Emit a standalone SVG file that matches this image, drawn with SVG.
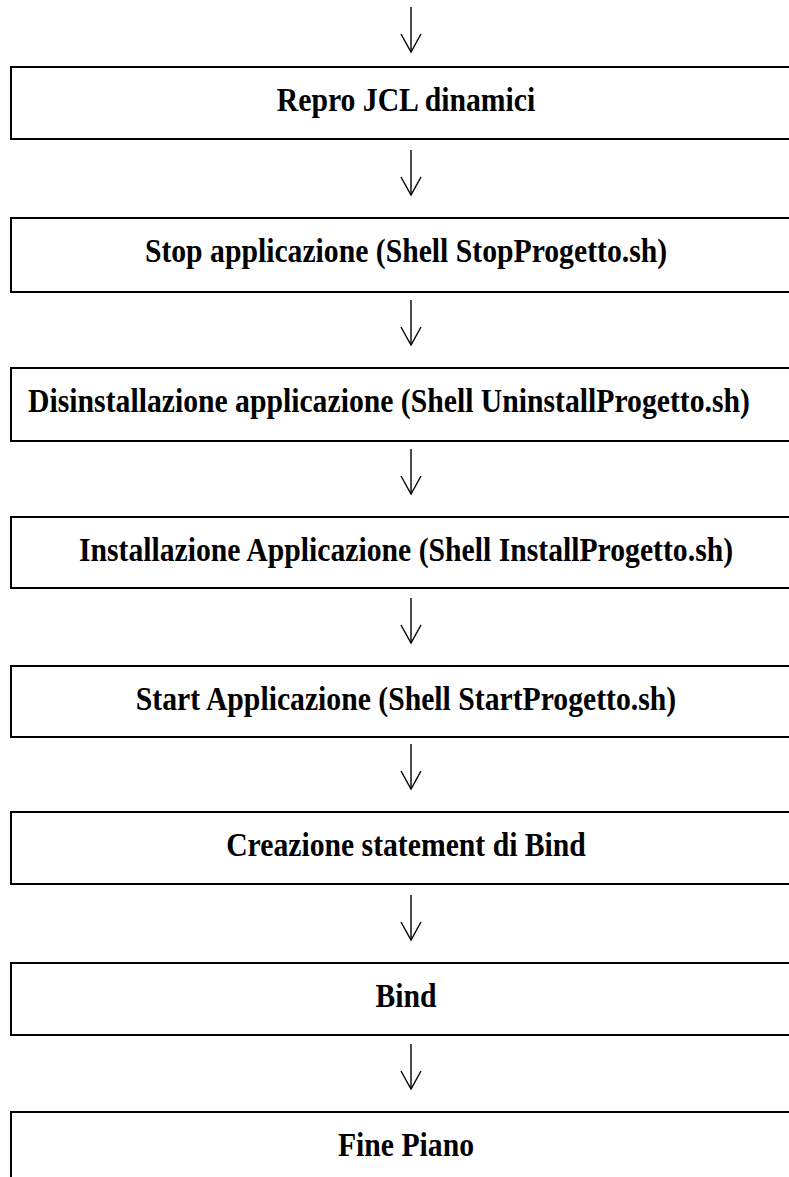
<svg xmlns="http://www.w3.org/2000/svg" width="789" height="1177" viewBox="0 0 789 1177">
<defs>
<style>
.box{fill:#fff;stroke:#000;stroke-width:2}
.lbl{font-family:"Liberation Serif","Times New Roman",serif;font-weight:bold;font-size:33px;text-anchor:middle;fill:#000}
.con{stroke:#000;stroke-width:1.4;fill:none}
</style>
</defs>
<rect width="789" height="1177" fill="#fff"/>
<g id="connectors">
<line class="con" x1="411" y1="7" x2="411" y2="52"/><polyline class="con" points="401,34 411,52 421,34"/>
<line class="con" x1="411" y1="150" x2="411" y2="195"/><polyline class="con" points="401,177 411,195 421,177"/>
<line class="con" x1="411" y1="300" x2="411" y2="345"/><polyline class="con" points="401,327 411,345 421,327"/>
<line class="con" x1="411" y1="449" x2="411" y2="494"/><polyline class="con" points="401,476 411,494 421,476"/>
<line class="con" x1="411" y1="598" x2="411" y2="643"/><polyline class="con" points="401,625 411,643 421,625"/>
<line class="con" x1="411" y1="744" x2="411" y2="789"/><polyline class="con" points="401,771 411,789 421,771"/>
<line class="con" x1="411" y1="895" x2="411" y2="940"/><polyline class="con" points="401,922 411,940 421,922"/>
<line class="con" x1="411" y1="1044" x2="411" y2="1089"/><polyline class="con" points="401,1071 411,1089 421,1071"/>
</g>
<g id="n1"><rect class="box" x="11" y="67" width="800" height="72"/><text class="lbl" transform="translate(406,111) scale(0.9,1)">Repro JCL dinamici</text></g>
<g id="n2"><rect class="box" x="11" y="218" width="800" height="74"/><text class="lbl" transform="translate(406,262) scale(0.9,1)">Stop applicazione (Shell StopProgetto.sh)</text></g>
<g id="n3"><rect class="box" x="11" y="368" width="800" height="73"/><text class="lbl" transform="translate(389,412) scale(0.9,1)">Disinstallazione applicazione (Shell UninstallProgetto.sh)</text></g>
<g id="n4"><rect class="box" x="11" y="517" width="800" height="71"/><text class="lbl" transform="translate(406,561) scale(0.9,1)">Installazione Applicazione (Shell InstallProgetto.sh)</text></g>
<g id="n5"><rect class="box" x="11" y="666" width="800" height="71"/><text class="lbl" transform="translate(406,710) scale(0.9,1)">Start Applicazione (Shell StartProgetto.sh)</text></g>
<g id="n6"><rect class="box" x="11" y="812" width="800" height="72"/><text class="lbl" transform="translate(406,856) scale(0.9,1)">Creazione statement di Bind</text></g>
<g id="n7"><rect class="box" x="11" y="963" width="800" height="72"/><text class="lbl" transform="translate(406,1007) scale(0.9,1)">Bind</text></g>
<g id="n8"><rect class="box" x="11" y="1112" width="800" height="100"/><text class="lbl" transform="translate(406,1156) scale(0.9,1)">Fine Piano</text></g>
</svg>
